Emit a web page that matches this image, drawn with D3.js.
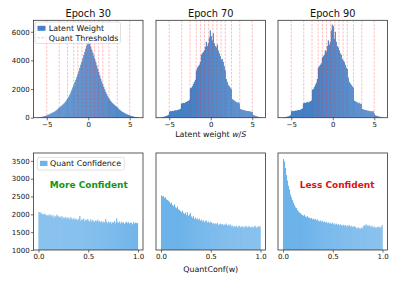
<!DOCTYPE html>
<html><head><meta charset="utf-8">
<script src="https://cdn.jsdelivr.net/npm/d3@7/dist/d3.min.js"></script>
<style>
html,body{margin:0;padding:0;background:#fff;}
svg{display:block;font-family:"DejaVu Sans",sans-serif;}
</style></head>
<body><svg id="c" width="399" height="285"></svg>
<script>
// ---------- DATA ----------
const epochs = ["Epoch 30", "Epoch 70", "Epoch 90"];
const weightBinStart = -6, weightBinWidth = 0.12; // 100 bins over [-6, 6]
const weightHist30 = [
 30,40,50,60,80,100,120,140,170,200,
 230,260,300,330,370,400,440,490,540,610,
 680,740,800,860,920,990,1060,1150,1250,1370,
 1480,1620,1780,1950,2120,2300,2480,2650,2830,3030,
 3250,3480,3700,3900,4130,4380,4600,4820,5050,5230,
 5280,5150,4950,4750,4550,4330,4100,3900,3650,3420,
 3180,2950,2730,2520,2330,2150,1980,1800,1650,1500,
 1380,1270,1170,1080,1010,950,880,820,760,700,
 620,560,500,450,400,360,320,280,250,220,
 190,160,140,120,100,80,60,50,40,30];
const weightHist70 = [
 30,40,60,80,100,130,160,200,420,460,
 450,480,470,500,520,510,540,560,580,620,
 980,1000,1040,1020,1080,1100,1150,1180,1250,2050,
 2100,2200,2350,2500,2650,3300,3500,3600,3700,3900,
 4400,4500,4600,4700,4950,5300,5000,5200,5600,6100,
 5700,5400,5900,5200,5000,4900,5100,4700,4500,4300,
 4050,4100,3900,3600,3300,2700,2500,2300,2200,2100,
 2000,1300,1250,1200,1150,1100,1050,1080,1000,620,
 580,560,540,520,500,480,470,460,450,430,
 420,400,200,170,140,110,90,70,50,30];
const weightHist90 = [
 30,40,50,60,80,100,130,170,450,480,
 460,470,500,490,520,540,530,560,600,650,
 1000,1050,1020,1080,1100,1060,1120,1150,1200,1950,
 2000,2150,2300,2450,2700,3500,3600,3700,3800,4200,
 4300,4400,4700,4600,5000,5400,5100,5300,6100,6500,
 6400,5500,6000,5300,5000,4900,4700,4500,4400,4100,
 4000,3900,3700,3500,3400,2800,2500,2400,2300,2200,
 2100,1200,1150,1100,1080,1000,1050,980,950,620,
 580,560,540,530,500,490,480,460,450,440,
 460,300,180,150,120,100,80,60,50,30];
const quantThresholds = [-5,-3.5,-2.5,-1.75,-1.25,-0.75,-0.25,0.25,0.75,1.25,1.75,2.5,3.5,5];

const confBinStart = 0, confBinWidth = 0.01; // 100 bins over [0, 1]
const confHist30 = [
 2070,2040,2050,2000,2010,1990,2020,1980,1950,1990,
 1960,2000,1970,1940,1980,1900,1960,1930,1990,1950,
 1920,1940,1900,1950,1880,1920,1890,1930,1870,1910,
 1900,1860,1920,1880,1850,1900,1840,1880,1860,1830,
 1870,1950,1820,1860,1840,1880,1800,1850,1830,1870,
 1820,1800,1860,1790,1840,1810,1780,1830,1800,1850,
 1790,1820,1780,1810,1760,1800,1770,1870,1790,1750,
 1800,1760,1790,1740,1780,1770,1810,1750,1890,1780,
 1760,1800,1740,1790,1760,1780,1730,1770,1790,1750,
 1780,1740,1770,1760,1720,1780,1740,1770,1750,1760];
const confHist70 = [
 2530,2500,2510,2460,2480,2420,2400,2380,2350,2300,
 2330,2260,2230,2280,2200,2170,2220,2140,2120,2090,
 2060,2100,2040,2010,2050,1980,2060,1960,1990,2040,
 1940,1900,1960,1870,1910,1860,1890,1840,1880,1820,
 1850,1800,1840,1780,1810,1830,1770,1800,1760,1790,
 1780,1740,1760,1720,1750,1730,1760,1700,1720,1740,
 1710,1730,1690,1720,1700,1740,1680,1710,1690,1720,
 1660,1690,1640,1670,1650,1680,1630,1660,1680,1640,
 1650,1670,1620,1660,1640,1680,1630,1650,1670,1630,
 1640,1660,1620,1650,1680,1640,1620,1660,1670,1650];
const confHist90 = [
 3550,3480,3300,3100,2950,2800,2700,2560,2480,2400,
 2330,2260,2200,2180,2120,2080,2050,2030,2000,1980,
 1960,1990,1940,1920,1950,1900,1910,1880,1900,1860,
 1880,1850,1870,1830,1860,1820,1800,1830,1790,1820,
 1780,1800,1770,1790,1750,1780,1740,1760,1730,1770,
 1720,1750,1710,1740,1700,1730,1690,1720,1700,1680,
 1710,1680,1700,1660,1690,1670,1700,1650,1680,1660,
 1640,1670,1650,1620,1600,1640,1610,1590,1630,1600,
 1650,1700,1680,1720,1690,1660,1700,1670,1640,1680,
 1620,1660,1640,1610,1650,1630,1660,1620,1640,1700];

const weightTicksX = [-5, 0, 5];
const weightTicksY = [0, 2000, 4000, 6000];
const confTicksX = [0, 0.5, 1.0];
const confTicksY = [1000, 1500, 2000, 2500, 3000, 3500];
const weightHists = [weightHist30, weightHist70, weightHist90];
const confHists = [confHist30, confHist70, confHist90];
const confNotes = [{text:"More Confident", color:"#149414", panel:0, fx:0.505},
                   {text:"Less Confident", color:"#dd1111", panel:2, fx:0.54}];

// ---------- LAYOUT ----------
const svg = d3.select("#c");
const panelX = [33.5, 156, 278], panelW = 109.5;
const topY0 = 20.3, topY1 = 117.7, botY0 = 153, botY1 = 250;
const tickFont = "7px", labelFont = "7.9px";
const topColor = "#4580c6", botColor = "#6db3ea";

const xW = d3.scaleLinear().domain([-6.6, 6.6]).range([0, panelW]);
const yW = d3.scaleLinear().domain([0, 6800]).range([topY1 - topY0, 0]);
const xC = d3.scaleLinear().domain([-0.05, 1.05]).range([0, panelW]);
const yC = d3.scaleLinear().domain([1000, 3720]).range([botY1 - botY0, 0]);

function styleAxis(g){
  g.select(".domain").remove();
  g.selectAll(".tick line").attr("stroke","#333").attr("stroke-width",0.7);
  g.selectAll(".tick text").attr("fill","#111").style("font-size",tickFont).style("font-family","DejaVu Sans");
}

const defs = svg.append("defs");

for (let p = 0; p < 3; p++) {
  // ---- top row ----
  const gt = svg.append("g").attr("transform",`translate(${panelX[p]},${topY0})`);
  defs.append("clipPath").attr("id","ct"+p).append("rect")
    .attr("width",panelW).attr("height",topY1-topY0);
  const bt = gt.append("g").attr("clip-path",`url(#ct${p})`);
  bt.selectAll("rect").data(weightHists[p]).join("rect")
    .attr("x",(d,i)=>xW(weightBinStart+i*weightBinWidth))
    .attr("width",(d,i)=>xW(weightBinStart+(i+1)*weightBinWidth)-xW(weightBinStart+i*weightBinWidth)+0.15)
    .attr("y",d=>yW(d)).attr("height",d=>yW(0)-yW(d))
    .attr("fill",topColor);
  bt.selectAll("line.th").data(quantThresholds).join("line").attr("class","th")
    .attr("x1",d=>xW(d)).attr("x2",d=>xW(d)).attr("y1",0).attr("y2",topY1-topY0)
    .attr("stroke","rgba(255,40,40,0.38)").attr("stroke-width",0.8).attr("stroke-dasharray","2.4,1.3");
  gt.append("rect").attr("width",panelW).attr("height",topY1-topY0)
    .attr("fill","none").attr("stroke","#333").attr("stroke-width",0.8);
  gt.append("g").attr("transform",`translate(0,${topY1-topY0})`)
    .call(d3.axisBottom(xW).tickValues(weightTicksX).tickFormat(d3.format("d")).tickSize(2.6).tickPadding(1.8))
    .call(styleAxis);
  if (p === 0) {
    gt.append("g").call(d3.axisLeft(yW).tickValues(weightTicksY).tickFormat(d3.format("d")).tickSize(2.6).tickPadding(1.3))
      .call(styleAxis);
  }
  gt.append("text").attr("x",panelW/2).attr("y",-3.3).attr("text-anchor","middle")
    .style("font-size","9.8px").attr("fill","#111").text(epochs[p]);

  // ---- bottom row ----
  const gb = svg.append("g").attr("transform",`translate(${panelX[p]},${botY0})`);
  defs.append("clipPath").attr("id","cb"+p).append("rect")
    .attr("width",panelW).attr("height",botY1-botY0);
  const bb = gb.append("g").attr("clip-path",`url(#cb${p})`);
  bb.selectAll("rect").data(confHists[p]).join("rect")
    .attr("x",(d,i)=>xC(confBinStart+i*confBinWidth))
    .attr("width",(d,i)=>xC(confBinStart+(i+1)*confBinWidth)-xC(confBinStart+i*confBinWidth)+0.1)
    .attr("y",d=>yC(d)).attr("height",d=>yC(1000)-yC(d)+2)
    .attr("fill",botColor);
  gb.append("rect").attr("width",panelW).attr("height",botY1-botY0)
    .attr("fill","none").attr("stroke","#333").attr("stroke-width",0.8);
  gb.append("g").attr("transform",`translate(0,${botY1-botY0})`)
    .call(d3.axisBottom(xC).tickValues(confTicksX).tickFormat(d3.format(".1f")).tickSize(2.6).tickPadding(1.8))
    .call(styleAxis);
  if (p === 0) {
    gb.append("g").call(d3.axisLeft(yC).tickValues(confTicksY).tickFormat(d3.format("d")).tickSize(2.6).tickPadding(1.3))
      .call(styleAxis);
  }
}

// annotations
confNotes.forEach(n=>{
  svg.append("text").attr("x",panelX[n.panel]+panelW*n.fx).attr("y",188)
    .attr("text-anchor","middle").style("font-size","9px").style("font-weight","bold")
    .attr("fill",n.color).text(n.text);
});

// axis labels
const xl = svg.append("text").attr("x",panelX[1]+panelW/2).attr("y",136.5).attr("text-anchor","middle")
  .style("font-size",labelFont).attr("fill","#111");
xl.append("tspan").text("Latent weight ");
xl.append("tspan").style("font-style","italic").text("w");
xl.append("tspan").text("/");
xl.append("tspan").style("font-style","italic").text("S");
svg.append("text").attr("x",panelX[1]+panelW/2).attr("y",271.5).attr("text-anchor","middle")
  .style("font-size",labelFont).attr("fill","#111").text("QuantConf(w)");

// legends
const lg1 = svg.append("g");
lg1.append("rect").attr("x",35).attr("y",22).attr("width",85.5).attr("height",21.5).attr("rx",1.8)
  .attr("fill","rgba(255,255,255,0.8)").attr("stroke","#d4d4d4").attr("stroke-width",0.7);
lg1.append("rect").attr("x",37.5).attr("y",25.8).attr("width",8).attr("height",5).attr("fill",topColor);
lg1.append("text").attr("x",48.8).attr("y",31.3).style("font-size",labelFont).attr("fill","#111").text("Latent Weight");
lg1.append("line").attr("x1",37.5).attr("x2",45.5).attr("y1",37.8).attr("y2",37.8)
  .attr("stroke","rgba(255,40,40,0.38)").attr("stroke-width",0.8).attr("stroke-dasharray","2.4,1.3");
lg1.append("text").attr("x",48.8).attr("y",41).style("font-size",labelFont).attr("fill","#111").text("Quant Thresholds");

const lg2 = svg.append("g");
lg2.append("rect").attr("x",37.3).attr("y",157.3).attr("width",87).attr("height",12.7).attr("rx",1.8)
  .attr("fill","rgba(255,255,255,0.8)").attr("stroke","#d4d4d4").attr("stroke-width",0.7);
lg2.append("rect").attr("x",40).attr("y",160.8).attr("width",7.5).attr("height",5.2).attr("fill",botColor);
lg2.append("text").attr("x",50).attr("y",166.3).style("font-size",labelFont).attr("fill","#111").text("Quant Confidence");
</script></body></html>
